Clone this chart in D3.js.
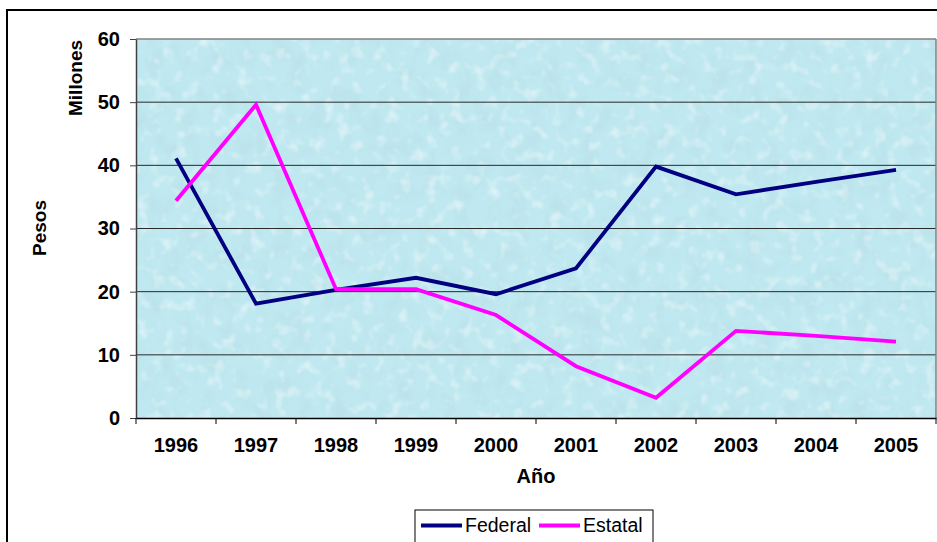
<!DOCTYPE html>
<html>
<head>
<meta charset="utf-8">
<script src="https://cdn.jsdelivr.net/npm/d3@7"></script>
<style>
  html, body { margin: 0; padding: 0; background: #fff; }
  svg { display: block; }
  text { font-family: "Liberation Sans", Arial, sans-serif; fill: #000; }
</style>
</head>
<body>
<svg id="chart" width="937" height="542"></svg>
<script>
const years = ["1996","1997","1998","1999","2000","2001","2002","2003","2004","2005"];
const federal = [41.1, 18.1, 20.3, 22.2, 19.6, 23.7, 39.8, 35.4, 37.4, 39.3];
const estatal = [34.4, 49.6, 20.4, 20.4, 16.3, 8.2, 3.2, 13.8, 13.0, 12.1];
const yTicks = [0, 10, 20, 30, 40, 50, 60];
const seriesNames = ["Federal", "Estatal"];
const seriesColors = ["#000080", "#FF00FF"];

const svg = d3.select("#chart");
const plot = {left: 136, right: 936, top: 39, bottom: 418};
const FONT = "'Liberation Sans', Arial, sans-serif";

// outer chart frame
svg.append("rect").attr("x", 7).attr("y", 10).attr("width", 1000).attr("height", 600)
  .attr("fill", "#fff").attr("stroke", "#000").attr("stroke-width", 2);

// texture filter (water-drop look)
const defs = svg.append("defs");
const f = defs.append("filter").attr("id", "tex").attr("x", 0).attr("y", 0).attr("width", 1).attr("height", 1);
f.append("feTurbulence").attr("type", "fractalNoise").attr("baseFrequency", "0.055 0.045")
  .attr("numOctaves", 3).attr("seed", 11).attr("result", "n");
f.append("feColorMatrix").attr("in", "n").attr("type", "matrix")
  .attr("values", "0 0 0 0 0.50  0 0 0 0 0.76  0 0 0 0 0.82  0 0 0 2.2 -0.95").attr("result", "c");
f.append("feTurbulence").attr("type", "fractalNoise").attr("baseFrequency", "0.08")
  .attr("numOctaves", 2).attr("seed", 3).attr("result", "n2");
f.append("feColorMatrix").attr("in", "n2").attr("type", "matrix")
  .attr("values", "0 0 0 0 0.86  0 0 0 0 0.96  0 0 0 0 0.98  0 0 0 1.6 -0.85").attr("result", "h");
f.append("feComposite").attr("in", "c").attr("in2", "SourceGraphic").attr("operator", "over").attr("result", "m");
f.append("feComposite").attr("in", "h").attr("in2", "m").attr("operator", "over").attr("result", "m2");
f.append("feComposite").attr("in", "m2").attr("in2", "SourceGraphic").attr("operator", "in");

const x = d3.scaleBand().domain(years).range([plot.left, plot.right]).padding(0);
const y = d3.scaleLinear().domain([0, 60]).range([plot.bottom, plot.top]);

// plot background
svg.append("rect").attr("x", plot.left).attr("y", plot.top)
  .attr("width", plot.right - plot.left).attr("height", plot.bottom - plot.top)
  .attr("fill", "#bfe8f0").attr("filter", "url(#tex)");

// gridlines
svg.append("g").selectAll("line").data(yTicks.filter(d => d > 0 && d < 60)).join("line")
  .attr("x1", plot.left).attr("x2", plot.right)
  .attr("y1", d => y(d)).attr("y2", d => y(d))
  .attr("stroke", "#2a2a2a").attr("stroke-width", 1);

// top and right border
svg.append("line").attr("x1", plot.left).attr("x2", plot.right).attr("y1", plot.top).attr("y2", plot.top)
  .attr("stroke", "#808080").attr("stroke-width", 1.5);
svg.append("line").attr("x1", plot.right).attr("x2", plot.right).attr("y1", plot.top).attr("y2", plot.bottom)
  .attr("stroke", "#808080").attr("stroke-width", 1.5);

// y axis
const yAxis = svg.append("g").attr("transform", `translate(${plot.left},0)`)
  .call(d3.axisLeft(y).tickValues(yTicks).tickSize(6).tickPadding(10).tickSizeOuter(0));
yAxis.select(".domain").attr("stroke", "#404040").attr("stroke-width", 1.5);
yAxis.selectAll(".tick line").attr("stroke", "#404040");
yAxis.selectAll("text").attr("font-size", 20).attr("font-weight", "bold")
  .attr("font-family", FONT).attr("fill", "#000");

// x axis labels
const xAxis = svg.append("g").attr("transform", `translate(0,${plot.bottom})`)
  .call(d3.axisBottom(x).tickSize(0).tickPadding(0).tickSizeOuter(0));
xAxis.select(".domain").attr("stroke", "#000").attr("stroke-width", 1.5);
xAxis.selectAll("text").attr("y", 34).attr("dy", 0).attr("font-size", 20).attr("font-weight", "bold")
  .attr("font-family", FONT).attr("fill", "#000");
// x boundary ticks
const bounds = years.map(d => x(d)).concat([x(years[years.length - 1]) + x.bandwidth()]);
svg.append("g").selectAll("line").data(bounds).join("line")
  .attr("x1", d => d).attr("x2", d => d).attr("y1", plot.bottom).attr("y2", plot.bottom + 6)
  .attr("stroke", "#000").attr("stroke-width", 1);

// lines
const line = d3.line().x((d, i) => x(years[i]) + x.bandwidth() / 2).y(d => y(d));
[federal, estatal].forEach((s, k) => {
  svg.append("path").datum(s).attr("d", line).attr("fill", "none")
    .attr("stroke", seriesColors[k]).attr("stroke-width", 3.8).attr("stroke-linejoin", "miter");
});

// axis titles
svg.append("text").attr("x", (plot.left + plot.right) / 2).attr("y", 483)
  .attr("text-anchor", "middle").attr("font-size", 20).attr("font-weight", "bold").text("Año");
svg.append("text").attr("transform", "translate(46,228) rotate(-90)")
  .attr("text-anchor", "middle").attr("font-size", 19).attr("font-weight", "bold").text("Pesos");
svg.append("text").attr("transform", "translate(81.5,78) rotate(-90)")
  .attr("text-anchor", "middle").attr("font-size", 19).attr("font-weight", "bold").text("Millones");

// legend
const lg = svg.append("g");
lg.append("rect").attr("x", 415).attr("y", 510).attr("width", 238).attr("height", 60)
  .attr("fill", "#fff").attr("stroke", "#000").attr("stroke-width", 1);
const legX = [421, 539];
seriesNames.forEach((n, i) => {
  lg.append("line").attr("x1", legX[i]).attr("x2", legX[i] + 41).attr("y1", 525.5).attr("y2", 525.5)
    .attr("stroke", seriesColors[i]).attr("stroke-width", 4);
  lg.append("text").attr("x", legX[i] + 44).attr("y", 531.7).attr("font-size", 19.5).text(n);
});
</script>
</body>
</html>
